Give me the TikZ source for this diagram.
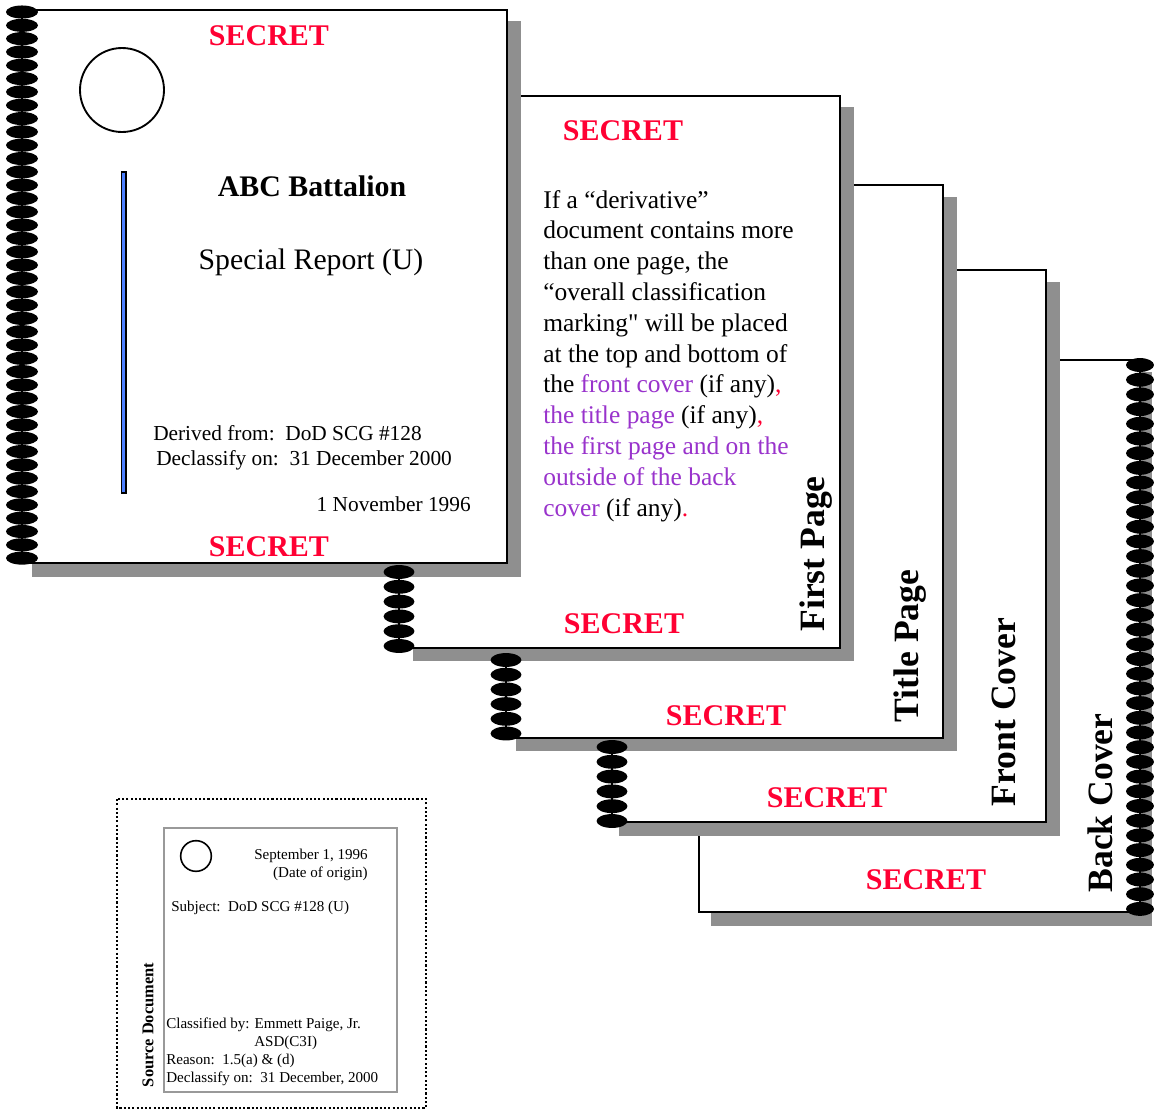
\documentclass[tikz,border=0pt]{standalone}
\usepackage{fontspec}
\setmainfont{Liberation Serif}
\newfontfamily\rawserif{Liberation Serif}[Ligatures=TeXOff]
\definecolor{secretred}{RGB}{255,0,51}
\definecolor{notepurple}{RGB}{153,51,204}
\definecolor{shadowgray}{RGB}{143,143,143}
\definecolor{barblue}{RGB}{77,128,255}
\definecolor{framegray}{RGB}{153,153,153}
\tikzset{
  pagebox/.style={draw=black, line width=1.5pt, fill=white},
  shadowbox/.style={fill=shadowgray},
  ringdot/.style={fill=black},
  secret/.style={text=secretred, font=\fontsize{22.5}{27}\selectfont\bfseries, anchor=base, inner sep=0pt},
  sidelabel/.style={rotate=90, font=\fontsize{26.7}{30}\selectfont\bfseries, anchor=center, inner sep=0pt},
  smalltext/.style={font=\fontsize{11.3}{14}\selectfont, inner sep=0pt},
  midtext/.style={font=\fontsize{16}{19}\selectfont, inner sep=0pt},
}
\begin{document}
\begin{tikzpicture}[x=0.75pt,y=-0.75pt]
\useasboundingbox (0,0) rectangle (1154,1111);

% ---- Back cover (page 5)
\fill[shadowbox] (711,372) rectangle (1152,926);
\filldraw[pagebox] (699,360) rectangle (1140,912);
% ---- Front cover (page 4)
\fill[shadowbox] (619,282) rectangle (1060,836);
\filldraw[pagebox] (612,270) rectangle (1046,822);
% ---- Title page (page 3)
\fill[shadowbox] (516,197) rectangle (957,751);
\filldraw[pagebox] (506,185) rectangle (943,738);
% ---- First page (page 2)
\fill[shadowbox] (413,107) rectangle (854,661);
\filldraw[pagebox] (399,96) rectangle (840,648);
% ---- Derivative document front (page 1)
\fill[shadowbox] (32,21) rectangle (521,577);
\filldraw[pagebox] (22,10) rectangle (507,563);

% ---- rings
\draw[line width=0.8pt] (22,12) -- (22,558);
\foreach \i in {0,...,41} \fill[ringdot] (22,{12+\i*13.32}) ellipse [x radius=12pt, y radius=4.9pt];
\draw[line width=0.8pt] (399,572) -- (399,646);
\foreach \i in {0,...,5} \fill[ringdot] (399,{572+\i*14.8}) ellipse [x radius=11.6pt, y radius=5.2pt];
\draw[line width=0.8pt] (506,660) -- (506,734);
\foreach \i in {0,...,5} \fill[ringdot] (506,{660+\i*14.7}) ellipse [x radius=11.6pt, y radius=5.2pt];
\draw[line width=0.8pt] (612,747) -- (612,821);
\foreach \i in {0,...,5} \fill[ringdot] (612,{747+\i*14.8}) ellipse [x radius=11.6pt, y radius=5.2pt];
\draw[line width=0.8pt] (1140,365) -- (1140,909);
\foreach \i in {0,...,37} \fill[ringdot] (1140,{365+\i*14.7}) ellipse [x radius=10.5pt, y radius=5.2pt];

% ---- page 1 content
\node[secret] (s1top) at (269,45) {SECRET};
\node[secret] (s1bot) at (269,556) {SECRET};
\draw[line width=1.4pt] (122,90) circle [radius=31.5pt];
\filldraw[fill=barblue, draw=black, line width=0.8pt] (121.5,172) rectangle (126,493);
\node[font=\fontsize{22.4}{27}\selectfont\bfseries, anchor=base, inner sep=0pt] (abc) at (312,196) {ABC Battalion};
\node[font=\fontsize{22.3}{27}\selectfont, anchor=base, inner sep=0pt] (special) at (311,269) {Special Report (U)};
\node[midtext, anchor=base west] (derived) at (153,440) {Derived from:\ \ DoD SCG \#128};
\node[midtext, anchor=base west] (declass) at (156,465) {Declassify on:\ \ 31 December 2000};
\node[midtext, anchor=base east] (date1) at (471,511) {1 November 1996};

% ---- page 2 content
\node[secret] (s2top) at (623,140) {SECRET};
\node[secret] (s2bot) at (624,633) {SECRET};
\node[font=\fontsize{19.1}{23.1}\selectfont, align=left, anchor=base west, inner sep=0pt] (body) at (543,516)
{If a “derivative”\\
document contains more\\
than one page, the\\
“overall classification\\
marking{\rawserif"} will be placed\\
at the top and bottom of\\
the \textcolor{notepurple}{front cover} (if any)\textcolor{secretred}{,}\\
\textcolor{notepurple}{the title page} (if any)\textcolor{secretred}{,}\\
\textcolor{notepurple}{the first page and on the}\\
\textcolor{notepurple}{outside of the back}\\
\textcolor{notepurple}{cover} (if any)\textcolor{secretred}{.}};
\node[sidelabel] (lfirst) at (816,554) {First Page};

% ---- page 3..5 content
\node[secret] (s3) at (726,725) {SECRET};
\node[sidelabel] (ltitle) at (910,646) {Title Page};
\node[secret] (s4) at (827,807) {SECRET};
\node[sidelabel] (lfront) at (1004,712) {Front Cover};
\node[secret] (s5) at (926,889) {SECRET};
\node[sidelabel] (lback) at (1100,803) {Back Cover};

% ---- source document
\draw[line width=2pt, dash pattern=on 1.6pt off 1.6pt] (117,799) rectangle (426,1108);
\draw[framegray, line width=1.2pt] (164,828) rectangle (397,1092);
\draw[line width=1.2pt] (196,856) circle [radius=11.5pt];
\node[smalltext, anchor=base east] (sept) at (368,859) {September 1, 1996};
\node[smalltext, anchor=base east] (origin) at (368,877) {(Date of origin)};
\node[smalltext, anchor=base west] (subj) at (171,911) {Subject:\ \ DoD SCG \#128 (U)};
\node[smalltext, anchor=base west] (clby) at (166,1028) {Classified by: Emmett Paige, Jr.};
\node[smalltext, anchor=base west] (asd) at (254,1046) {ASD(C3I)};
\node[smalltext, anchor=base west] (reason) at (166,1064) {Reason:\ \ 1.5(a) \& (d)};
\node[smalltext, anchor=base west] (decl2) at (166,1082) {Declassify on:\ \ 31 December, 2000};
\node[rotate=90, font=\fontsize{12.3}{14}\selectfont\bfseries, inner sep=0pt] (srcdoc) at (148,1025) {Source Document};
\end{tikzpicture}
\end{document}
